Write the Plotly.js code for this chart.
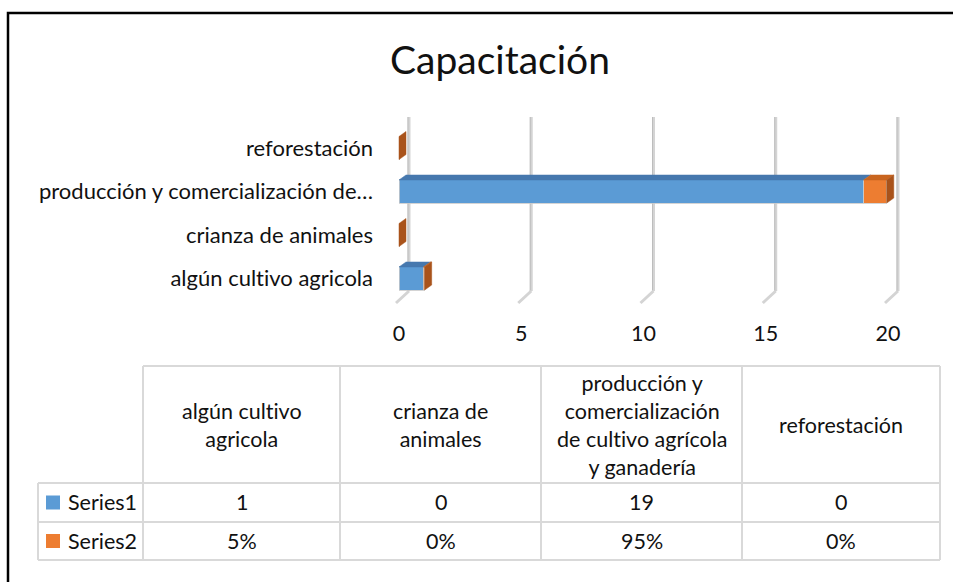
<!DOCTYPE html>
<html>
<head>
<meta charset="utf-8">
<script src="https://cdn.plot.ly/plotly-3.0.1.min.js"></script>
<style>
html,body{margin:0;padding:0;background:#fff;}
#chart{width:953px;height:582px;}
text{font-variant-ligatures:none;font-feature-settings:"liga" 0, "clig" 0;}
</style>
</head>
<body>
<div id="chart"></div>
<script>
// ---- data ----
const categories = ["algún cultivo agricola", "crianza de animales", "producción y comercialización de cultivo agrícola y ganadería", "reforestación"];
const axisLabels = ["algún cultivo agricola", "crianza de animales", "producción y comercialización de…", "reforestación"];
const headerLabels = ["algún cultivo<br>agricola", "crianza de<br>animales", "producción y<br>comercialización<br>de cultivo agrícola<br>y ganadería", "reforestación"];
const seriesNames = ["Series1", "Series2"];
const series1 = [1, 0, 19, 0];
const series2 = [0.05, 0, 0.95, 0];
const xTicks = [0, 5, 10, 15, 20];
const titleText = "Capacitación";

// ---- styling / layout constants ----
const W = 953, H = 582;
const zeroPx = 399, twentyPx = 888;           // pixel positions of axis min/max ticks
const pxPerX = (twentyPx - zeroPx) / 20;
const plotLeftPx = 393, plotRightPx = 906;
const ML = plotLeftPx, MR = W - plotRightPx, MT = 117, MB = 279;
const plotW = W - ML - MR, plotH = H - MT - MB;
const xRange = [-(zeroPx - plotLeftPx) / pxPerX, (plotRightPx - zeroPx) / pxPerX];
const yRange = [-0.563, 3.713];
const barW = 0.53;
const FONT = "Lato, 'Open Sans', sans-serif";
const blue = "#5B9BD5", orange = "#ED7D31";
const blueTop = "#4678AE", orangeTop = "#C9651F", orangeSide = "#A9531B", blueSide = "#3F6E9F";
const gridC = "#d4d4d4", tableC = "#d9d9d9";

const pxPerY = plotH / (yRange[1] - yRange[0]);
const depthX = 7 / pxPerX, depthY = 5 / pxPerY;

const px2paperX = p => (p - ML) / plotW;
const px2paperY = p => (H - MB - p) / plotH;

const yPos = categories.map((c, i) => i);

const traces = [
  {type: "bar", orientation: "h", name: seriesNames[0], y: yPos, x: series1, width: barW,
   marker: {color: blue, line: {color: "#c9c9c9", width: 0.8}}, hoverinfo: "x+name"},
  {type: "bar", orientation: "h", name: seriesNames[1], y: yPos, x: series2, width: barW,
   marker: {color: orange, line: {color: "#c9c9c9", width: 0.8}}, hoverinfo: "x+name"}
];

function poly(xs, ys, color) {
  return {type: "scatter", mode: "lines", x: xs.concat([xs[0]]), y: ys.concat([ys[0]]),
    fill: "toself", fillcolor: color, line: {color: color, width: 0.5},
    hoverinfo: "skip", showlegend: false};
}

// 3D faces built from data values
yPos.forEach((yc, i) => {
  const yb = yc - barW / 2, yt = yc + barW / 2;
  const segs = [[0, series1[i], blueTop, blueSide], [series1[i], series1[i] + series2[i], orangeTop, orangeSide]];
  segs.forEach(s => {
    if (s[1] > s[0]) {
      traces.push(poly([s[0], s[1], s[1] + depthX, s[0] + depthX], [yt, yt, yt + depthY, yt + depthY], s[2]));
    }
  });
  const end = series1[i] + series2[i];
  const sideColor = series2[i] > 0 || series1[i] === 0 ? orangeSide : blueSide;
  traces.push(poly([end, end, end + depthX, end + depthX], [yb, yt, yt + depthY, yb + depthY], sideColor));
});

const shapes = [];
// walls / gridlines (3D style)
xTicks.forEach(t => {
  shapes.push({type: "line", layer: "below", xref: "x", xsizemode: "pixel", xanchor: t, x0: 10, x1: 10,
    yref: "paper", ysizemode: "pixel", yanchor: 0, y0: 12, y1: plotH, line: {color: gridC, width: 3}});
  shapes.push({type: "line", layer: "below", xref: "x", xsizemode: "pixel", xanchor: t, x0: 9, x1: 9,
    yref: "paper", ysizemode: "pixel", yanchor: 0, y0: 12, y1: plotH, line: {color: "#bdbdbd", width: 1}});
  shapes.push({type: "line", layer: "below", xref: "x", xsizemode: "pixel", xanchor: t, x0: 10, x1: -3,
    yref: "paper", ysizemode: "pixel", yanchor: 0, y0: 12, y1: 0, line: {color: gridC, width: 3}});
});

// outer frame
shapes.push({type: "rect", xref: "paper", yref: "paper", x0: px2paperX(8), x1: px2paperX(980),
  y0: px2paperY(600), y1: px2paperY(13), line: {color: "#000", width: 2.5}, fillcolor: "rgba(0,0,0,0)"});

// data table
const colEdges = [143, 340, 541, 742, 940];
const rowEdges = [366, 483, 522, 560];
const serLeft = 38;
function hLine(y, xa, xb) {
  shapes.push({type: "line", xref: "paper", yref: "paper", x0: px2paperX(xa), x1: px2paperX(xb),
    y0: px2paperY(y), y1: px2paperY(y), line: {color: tableC, width: 2}});
}
function vLine(x, ya, yb) {
  shapes.push({type: "line", xref: "paper", yref: "paper", x0: px2paperX(x), x1: px2paperX(x),
    y0: px2paperY(ya), y1: px2paperY(yb), line: {color: tableC, width: 2}});
}
hLine(rowEdges[0], colEdges[0], colEdges[4]);
for (let r = 1; r < rowEdges.length; r++) hLine(rowEdges[r], serLeft, colEdges[4]);
colEdges.forEach(x => vLine(x, rowEdges[0], rowEdges[3]));
vLine(serLeft, rowEdges[1], rowEdges[3]);

const annotations = [];
const tFont = {family: FONT, size: 21.5, color: "#111"};
function ann(text, xpx, ypx, xanchor) {
  annotations.push({text: text, xref: "paper", yref: "paper", x: px2paperX(xpx), y: px2paperY(ypx),
    xanchor: xanchor || "center", yanchor: "middle", showarrow: false, font: tFont, align: "center"});
}
headerLabels.forEach((h, i) => ann(h, (colEdges[i] + colEdges[i + 1]) / 2, (rowEdges[0] + rowEdges[1]) / 2));
const rowVals = [series1.map(v => String(v)), series2.map(v => Math.round(v * 100) + "%")];
const keyColors = [blue, orange];
rowVals.forEach((vals, r) => {
  const yc = (rowEdges[r + 1] + rowEdges[r + 2]) / 2;
  vals.forEach((v, i) => ann(v, (colEdges[i] + colEdges[i + 1]) / 2, yc));
  ann(seriesNames[r], 66, yc, "left");
  shapes.push({type: "rect", xref: "paper", yref: "paper", x0: px2paperX(46), x1: px2paperX(60),
    y0: px2paperY(yc + 7), y1: px2paperY(yc - 7), fillcolor: keyColors[r], line: {width: 0}});
});

const layout = {
  width: W, height: H,
  margin: {l: ML, r: MR, t: MT, b: MB, pad: 0},
  paper_bgcolor: "#fff", plot_bgcolor: "rgba(0,0,0,0)",
  barmode: "stack", showlegend: false,
  title: {text: titleText, font: {family: FONT, size: 39, color: "#111"},
    x: 500 / W, xref: "container", y: 1 - 60 / H, yref: "container", xanchor: "center", yanchor: "middle"},
  xaxis: {range: xRange, tickvals: xTicks, ticktext: xTicks.map(String), showgrid: false, zeroline: false,
    showline: false, ticks: "", ticklabelstandoff: 15, tickfont: {family: FONT, size: 21.5, color: "#111"}, fixedrange: true},
  yaxis: {range: yRange, tickvals: yPos, ticktext: axisLabels, showgrid: false, zeroline: false,
    showline: false, ticks: "", ticklabelstandoff: 19, tickfont: {family: FONT, size: 22, color: "#111"}, fixedrange: true},
  shapes: shapes,
  annotations: annotations
};

Plotly.newPlot("chart", traces, layout, {displayModeBar: false, staticPlot: true});
</script>
</body>
</html>
